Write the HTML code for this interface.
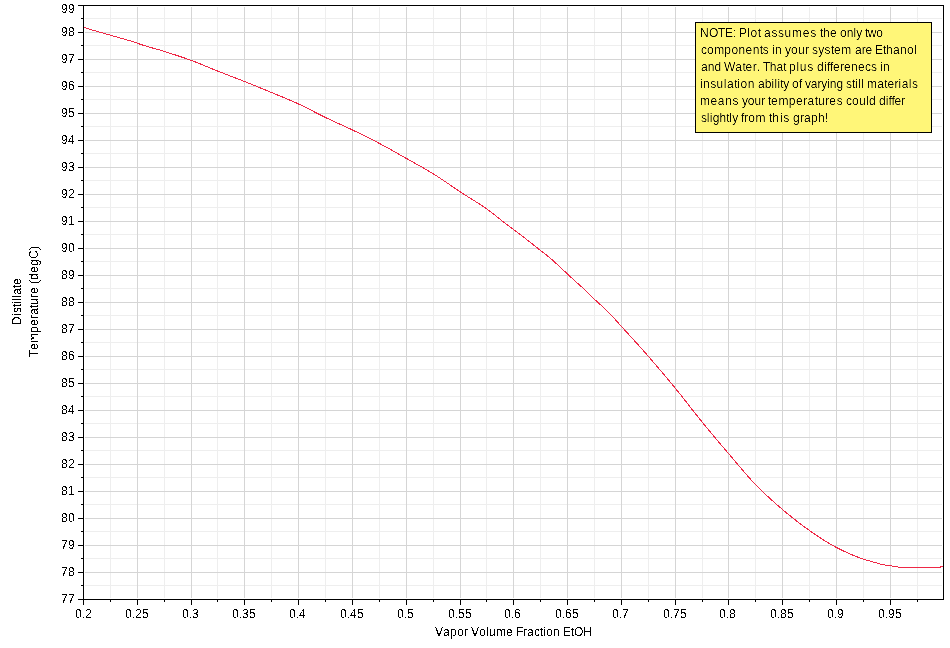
<!DOCTYPE html><html><head><meta charset="utf-8"><title>Distillate Temperature vs Vapor Volume Fraction EtOH</title>
<style>html,body{margin:0;padding:0;background:#fff;width:950px;height:648px;overflow:hidden}svg{display:block;will-change:transform}text{font-family:"Liberation Sans",Arial,sans-serif;font-size:12px;fill:#000}</style></head><body>
<svg width="950" height="648" viewBox="0 0 950 648">
<rect x="0" y="0" width="950" height="648" fill="#fff"/>
<path d="M85 18.5H942M85 45.5H942M85 72.5H942M85 99.5H942M85 126.5H942M85 153.5H942M85 180.5H942M85 207.5H942M85 234.5H942M85 261.5H942M85 288.5H942M85 315.5H942M85 342.5H942M85 369.5H942M85 396.5H942M85 423.5H942M85 450.5H942M85 477.5H942M85 504.5H942M85 531.5H942M85 558.5H942M85 585.5H942M110.5 7V598M164.5 7V598M217.5 7V598M271.5 7V598M325.5 7V598M379.5 7V598M433.5 7V598M486.5 7V598M540.5 7V598M594.5 7V598M648.5 7V598M702.5 7V598M755.5 7V598M809.5 7V598M863.5 7V598M917.5 7V598" stroke="#EEEEEE" stroke-width="1" fill="none" shape-rendering="crispEdges"/>
<path d="M85 32.5H942M85 59.5H942M85 86.5H942M85 113.5H942M85 140.5H942M85 167.5H942M85 194.5H942M85 221.5H942M85 248.5H942M85 275.5H942M85 302.5H942M85 329.5H942M85 356.5H942M85 383.5H942M85 410.5H942M85 437.5H942M85 464.5H942M85 491.5H942M85 518.5H942M85 545.5H942M85 572.5H942M137.5 7V598M191.5 7V598M244.5 7V598M298.5 7V598M352.5 7V598M406.5 7V598M460.5 7V598M513.5 7V598M567.5 7V598M621.5 7V598M675.5 7V598M728.5 7V598M782.5 7V598M836.5 7V598M890.5 7V598" stroke="#D5D5D5" stroke-width="1" fill="none" shape-rendering="crispEdges"/>
<path d="M84.5 27.50 L85.5 27.93 L86.5 28.32 L87.5 28.66 L88.5 28.95 L89.5 29.22 L90.5 29.50 L91.5 29.79 L92.5 30.07 L93.5 30.36 L94.5 30.64 L95.5 30.93 L96.5 31.21 L97.5 31.50 L98.5 31.79 L99.5 32.07 L100.5 32.36 L101.5 32.64 L102.5 32.93 L103.5 33.21 L104.5 33.50 L105.5 33.79 L106.5 34.07 L107.5 34.36 L108.5 34.64 L109.5 34.93 L110.5 35.21 L111.5 35.50 L112.5 35.79 L113.5 36.07 L114.5 36.36 L115.5 36.64 L116.5 36.93 L117.5 37.21 L118.5 37.50 L119.5 37.79 L120.5 38.07 L121.5 38.36 L122.5 38.64 L123.5 38.93 L124.5 39.21 L125.5 39.50 L126.5 39.79 L127.5 40.07 L128.5 40.36 L129.5 40.64 L130.5 40.92 L131.5 41.20 L132.5 41.50 L133.5 41.82 L134.5 42.15 L135.5 42.50 L136.5 42.90 L137.5 43.31 L138.5 43.68 L139.5 44.03 L140.5 44.37 L141.5 44.70 L142.5 45.02 L143.5 45.34 L144.5 45.65 L145.5 45.96 L146.5 46.26 L147.5 46.55 L148.5 46.85 L149.5 47.14 L150.5 47.42 L151.5 47.71 L152.5 47.99 L153.5 48.27 L154.5 48.55 L155.5 48.84 L156.5 49.12 L157.5 49.41 L158.5 49.69 L159.5 49.98 L160.5 50.28 L161.5 50.58 L162.5 50.88 L163.5 51.19 L164.5 51.50 L165.5 51.82 L166.5 52.13 L167.5 52.45 L168.5 52.77 L169.5 53.09 L170.5 53.41 L171.5 53.73 L172.5 54.05 L173.5 54.37 L174.5 54.69 L175.5 55.02 L176.5 55.34 L177.5 55.67 L178.5 56.00 L179.5 56.33 L180.5 56.67 L181.5 57.00 L182.5 57.34 L183.5 57.68 L184.5 58.02 L185.5 58.37 L186.5 58.71 L187.5 59.07 L188.5 59.42 L189.5 59.78 L190.5 60.14 L191.5 60.50 L192.5 60.87 L193.5 61.24 L194.5 61.62 L195.5 62.01 L196.5 62.40 L197.5 62.79 L198.5 63.19 L199.5 63.60 L200.5 64.00 L201.5 64.41 L202.5 64.82 L203.5 65.24 L204.5 65.65 L205.5 66.07 L206.5 66.48 L207.5 66.90 L208.5 67.32 L209.5 67.73 L210.5 68.15 L211.5 68.56 L212.5 68.98 L213.5 69.39 L214.5 69.79 L215.5 70.20 L216.5 70.60 L217.5 71.00 L218.5 71.40 L219.5 71.79 L220.5 72.18 L221.5 72.57 L222.5 72.96 L223.5 73.35 L224.5 73.74 L225.5 74.13 L226.5 74.51 L227.5 74.90 L228.5 75.28 L229.5 75.67 L230.5 76.05 L231.5 76.44 L232.5 76.82 L233.5 77.21 L234.5 77.59 L235.5 77.98 L236.5 78.37 L237.5 78.75 L238.5 79.14 L239.5 79.53 L240.5 79.92 L241.5 80.31 L242.5 80.71 L243.5 81.10 L244.5 81.50 L245.5 81.90 L246.5 82.30 L247.5 82.70 L248.5 83.10 L249.5 83.50 L250.5 83.90 L251.5 84.31 L252.5 84.71 L253.5 85.11 L254.5 85.52 L255.5 85.92 L256.5 86.33 L257.5 86.74 L258.5 87.15 L259.5 87.55 L260.5 87.96 L261.5 88.37 L262.5 88.78 L263.5 89.19 L264.5 89.61 L265.5 90.02 L266.5 90.43 L267.5 90.84 L268.5 91.26 L269.5 91.67 L270.5 92.09 L271.5 92.50 L272.5 92.91 L273.5 93.33 L274.5 93.74 L275.5 94.15 L276.5 94.56 L277.5 94.97 L278.5 95.38 L279.5 95.79 L280.5 96.21 L281.5 96.62 L282.5 97.03 L283.5 97.45 L284.5 97.86 L285.5 98.28 L286.5 98.70 L287.5 99.12 L288.5 99.54 L289.5 99.97 L290.5 100.40 L291.5 100.83 L292.5 101.26 L293.5 101.70 L294.5 102.15 L295.5 102.59 L296.5 103.04 L297.5 103.50 L298.5 103.96 L299.5 104.43 L300.5 104.90 L301.5 105.39 L302.5 105.87 L303.5 106.36 L304.5 106.86 L305.5 107.36 L306.5 107.86 L307.5 108.37 L308.5 108.88 L309.5 109.39 L310.5 109.91 L311.5 110.42 L312.5 110.94 L313.5 111.45 L314.5 111.97 L315.5 112.48 L316.5 113.00 L317.5 113.51 L318.5 114.02 L319.5 114.53 L320.5 115.03 L321.5 115.54 L322.5 116.03 L323.5 116.53 L324.5 117.02 L325.5 117.50 L326.5 117.98 L327.5 118.45 L328.5 118.93 L329.5 119.39 L330.5 119.86 L331.5 120.32 L332.5 120.78 L333.5 121.24 L334.5 121.70 L335.5 122.16 L336.5 122.61 L337.5 123.07 L338.5 123.52 L339.5 123.98 L340.5 124.43 L341.5 124.89 L342.5 125.34 L343.5 125.80 L344.5 126.26 L345.5 126.71 L346.5 127.18 L347.5 127.64 L348.5 128.11 L349.5 128.57 L350.5 129.05 L351.5 129.52 L352.5 130.00 L353.5 130.48 L354.5 130.96 L355.5 131.45 L356.5 131.93 L357.5 132.42 L358.5 132.90 L359.5 133.39 L360.5 133.88 L361.5 134.37 L362.5 134.86 L363.5 135.36 L364.5 135.85 L365.5 136.35 L366.5 136.85 L367.5 137.35 L368.5 137.85 L369.5 138.35 L370.5 138.86 L371.5 139.36 L372.5 139.87 L373.5 140.38 L374.5 140.90 L375.5 141.41 L376.5 141.93 L377.5 142.45 L378.5 142.97 L379.5 143.50 L380.5 144.03 L381.5 144.56 L382.5 145.09 L383.5 145.63 L384.5 146.17 L385.5 146.72 L386.5 147.26 L387.5 147.81 L388.5 148.36 L389.5 148.92 L390.5 149.47 L391.5 150.03 L392.5 150.59 L393.5 151.15 L394.5 151.71 L395.5 152.28 L396.5 152.84 L397.5 153.41 L398.5 153.97 L399.5 154.54 L400.5 155.10 L401.5 155.67 L402.5 156.24 L403.5 156.80 L404.5 157.37 L405.5 157.93 L406.5 158.50 L407.5 159.06 L408.5 159.63 L409.5 160.19 L410.5 160.75 L411.5 161.31 L412.5 161.87 L413.5 162.42 L414.5 162.98 L415.5 163.54 L416.5 164.10 L417.5 164.66 L418.5 165.23 L419.5 165.79 L420.5 166.36 L421.5 166.92 L422.5 167.49 L423.5 168.07 L424.5 168.64 L425.5 169.22 L426.5 169.80 L427.5 170.39 L428.5 170.98 L429.5 171.57 L430.5 172.17 L431.5 172.78 L432.5 173.39 L433.5 174.00 L434.5 174.62 L435.5 175.25 L436.5 175.88 L437.5 176.53 L438.5 177.18 L439.5 177.83 L440.5 178.49 L441.5 179.15 L442.5 179.82 L443.5 180.49 L444.5 181.17 L445.5 181.84 L446.5 182.52 L447.5 183.20 L448.5 183.89 L449.5 184.57 L450.5 185.25 L451.5 185.94 L452.5 186.62 L453.5 187.30 L454.5 187.98 L455.5 188.66 L456.5 189.34 L457.5 190.01 L458.5 190.68 L459.5 191.34 L460.5 192.00 L461.5 192.65 L462.5 193.30 L463.5 193.95 L464.5 194.59 L465.5 195.22 L466.5 195.86 L467.5 196.49 L468.5 197.12 L469.5 197.74 L470.5 198.37 L471.5 199.00 L472.5 199.62 L473.5 200.25 L474.5 200.88 L475.5 201.52 L476.5 202.15 L477.5 202.79 L478.5 203.43 L479.5 204.08 L480.5 204.73 L481.5 205.39 L482.5 206.06 L483.5 206.73 L484.5 207.41 L485.5 208.10 L486.5 208.79 L487.5 209.50 L488.5 210.22 L489.5 210.95 L490.5 211.70 L491.5 212.46 L492.5 213.23 L493.5 214.01 L494.5 214.80 L495.5 215.59 L496.5 216.39 L497.5 217.19 L498.5 217.99 L499.5 218.79 L500.5 219.59 L501.5 220.38 L502.5 221.17 L503.5 221.96 L504.5 222.73 L505.5 223.50 L506.5 224.26 L507.5 225.01 L508.5 225.76 L509.5 226.51 L510.5 227.25 L511.5 228.00 L512.5 228.75 L513.5 229.50 L514.5 230.26 L515.5 231.01 L516.5 231.77 L517.5 232.53 L518.5 233.28 L519.5 234.04 L520.5 234.80 L521.5 235.56 L522.5 236.32 L523.5 237.09 L524.5 237.85 L525.5 238.62 L526.5 239.39 L527.5 240.16 L528.5 240.94 L529.5 241.72 L530.5 242.50 L531.5 243.29 L532.5 244.08 L533.5 244.88 L534.5 245.69 L535.5 246.49 L536.5 247.30 L537.5 248.11 L538.5 248.91 L539.5 249.71 L540.5 250.50 L541.5 251.28 L542.5 252.05 L543.5 252.81 L544.5 253.56 L545.5 254.32 L546.5 255.09 L547.5 255.87 L548.5 256.68 L549.5 257.50 L550.5 258.35 L551.5 259.22 L552.5 260.12 L553.5 261.03 L554.5 261.95 L555.5 262.88 L556.5 263.82 L557.5 264.76 L558.5 265.71 L559.5 266.64 L560.5 267.58 L561.5 268.50 L562.5 269.42 L563.5 270.33 L564.5 271.24 L565.5 272.16 L566.5 273.08 L567.5 274.00 L568.5 274.93 L569.5 275.87 L570.5 276.82 L571.5 277.76 L572.5 278.71 L573.5 279.65 L574.5 280.58 L575.5 281.50 L576.5 282.40 L577.5 283.29 L578.5 284.17 L579.5 285.04 L580.5 285.92 L581.5 286.79 L582.5 287.68 L583.5 288.58 L584.5 289.50 L585.5 290.44 L586.5 291.41 L587.5 292.39 L588.5 293.38 L589.5 294.38 L590.5 295.39 L591.5 296.38 L592.5 297.37 L593.5 298.35 L594.5 299.30 L595.5 300.23 L596.5 301.15 L597.5 302.05 L598.5 302.94 L599.5 303.83 L600.5 304.73 L601.5 305.64 L602.5 306.56 L603.5 307.50 L604.5 308.46 L605.5 309.43 L606.5 310.41 L607.5 311.41 L608.5 312.41 L609.5 313.43 L610.5 314.46 L611.5 315.50 L612.5 316.56 L613.5 317.63 L614.5 318.72 L615.5 319.82 L616.5 320.93 L617.5 322.04 L618.5 323.16 L619.5 324.28 L620.5 325.39 L621.5 326.50 L622.5 327.60 L623.5 328.71 L624.5 329.81 L625.5 330.91 L626.5 332.01 L627.5 333.11 L628.5 334.20 L629.5 335.30 L630.5 336.40 L631.5 337.50 L632.5 338.60 L633.5 339.70 L634.5 340.81 L635.5 341.91 L636.5 343.01 L637.5 344.12 L638.5 345.23 L639.5 346.34 L640.5 347.46 L641.5 348.58 L642.5 349.70 L643.5 350.82 L644.5 351.95 L645.5 353.08 L646.5 354.22 L647.5 355.36 L648.5 356.50 L649.5 357.65 L650.5 358.80 L651.5 359.95 L652.5 361.11 L653.5 362.27 L654.5 363.44 L655.5 364.60 L656.5 365.77 L657.5 366.94 L658.5 368.12 L659.5 369.29 L660.5 370.47 L661.5 371.66 L662.5 372.84 L663.5 374.03 L664.5 375.22 L665.5 376.42 L666.5 377.61 L667.5 378.81 L668.5 380.01 L669.5 381.22 L670.5 382.43 L671.5 383.64 L672.5 384.85 L673.5 386.06 L674.5 387.28 L675.5 388.50 L676.5 389.73 L677.5 390.96 L678.5 392.20 L679.5 393.44 L680.5 394.70 L681.5 395.95 L682.5 397.21 L683.5 398.48 L684.5 399.75 L685.5 401.02 L686.5 402.30 L687.5 403.57 L688.5 404.85 L689.5 406.13 L690.5 407.40 L691.5 408.68 L692.5 409.96 L693.5 411.23 L694.5 412.50 L695.5 413.77 L696.5 415.03 L697.5 416.29 L698.5 417.54 L699.5 418.79 L700.5 420.04 L701.5 421.27 L702.5 422.50 L703.5 423.72 L704.5 424.94 L705.5 426.16 L706.5 427.37 L707.5 428.58 L708.5 429.79 L709.5 431.00 L710.5 432.20 L711.5 433.40 L712.5 434.60 L713.5 435.79 L714.5 436.99 L715.5 438.18 L716.5 439.37 L717.5 440.55 L718.5 441.74 L719.5 442.92 L720.5 444.10 L721.5 445.28 L722.5 446.46 L723.5 447.64 L724.5 448.81 L725.5 449.99 L726.5 451.16 L727.5 452.33 L728.5 453.50 L729.5 454.67 L730.5 455.85 L731.5 457.03 L732.5 458.22 L733.5 459.41 L734.5 460.60 L735.5 461.79 L736.5 462.98 L737.5 464.17 L738.5 465.35 L739.5 466.54 L740.5 467.72 L741.5 468.90 L742.5 470.07 L743.5 471.24 L744.5 472.40 L745.5 473.56 L746.5 474.70 L747.5 475.84 L748.5 476.96 L749.5 478.08 L750.5 479.18 L751.5 480.28 L752.5 481.35 L753.5 482.42 L754.5 483.47 L755.5 484.50 L756.5 485.52 L757.5 486.53 L758.5 487.54 L759.5 488.53 L760.5 489.52 L761.5 490.50 L762.5 491.47 L763.5 492.43 L764.5 493.39 L765.5 494.34 L766.5 495.28 L767.5 496.22 L768.5 497.15 L769.5 498.07 L770.5 498.98 L771.5 499.89 L772.5 500.79 L773.5 501.69 L774.5 502.58 L775.5 503.46 L776.5 504.34 L777.5 505.21 L778.5 506.08 L779.5 506.94 L780.5 507.80 L781.5 508.65 L782.5 509.50 L783.5 510.34 L784.5 511.18 L785.5 512.02 L786.5 512.85 L787.5 513.68 L788.5 514.50 L789.5 515.31 L790.5 516.13 L791.5 516.93 L792.5 517.74 L793.5 518.53 L794.5 519.33 L795.5 520.11 L796.5 520.89 L797.5 521.67 L798.5 522.44 L799.5 523.20 L800.5 523.96 L801.5 524.71 L802.5 525.46 L803.5 526.20 L804.5 526.93 L805.5 527.66 L806.5 528.38 L807.5 529.09 L808.5 529.80 L809.5 530.50 L810.5 531.20 L811.5 531.89 L812.5 532.58 L813.5 533.27 L814.5 533.95 L815.5 534.64 L816.5 535.31 L817.5 535.99 L818.5 536.66 L819.5 537.32 L820.5 537.98 L821.5 538.64 L822.5 539.28 L823.5 539.92 L824.5 540.56 L825.5 541.19 L826.5 541.81 L827.5 542.42 L828.5 543.02 L829.5 543.61 L830.5 544.20 L831.5 544.78 L832.5 545.34 L833.5 545.90 L834.5 546.44 L835.5 546.98 L836.5 547.50 L837.5 548.01 L838.5 548.52 L839.5 549.03 L840.5 549.53 L841.5 550.02 L842.5 550.50 L843.5 550.99 L844.5 551.46 L845.5 551.93 L846.5 552.39 L847.5 552.85 L848.5 553.30 L849.5 553.74 L850.5 554.18 L851.5 554.61 L852.5 555.03 L853.5 555.45 L854.5 555.85 L855.5 556.26 L856.5 556.65 L857.5 557.04 L858.5 557.41 L859.5 557.78 L860.5 558.15 L861.5 558.50 L862.5 558.84 L863.5 559.16 L864.5 559.47 L865.5 559.77 L866.5 560.06 L867.5 560.35 L868.5 560.65 L869.5 560.94 L870.5 561.23 L871.5 561.52 L872.5 561.80 L873.5 562.08 L874.5 562.36 L875.5 562.64 L876.5 562.92 L877.5 563.21 L878.5 563.49 L879.5 563.76 L880.5 564.03 L881.5 564.27 L882.5 564.50 L883.5 564.71 L884.5 564.90 L885.5 565.09 L886.5 565.26 L887.5 565.42 L888.5 565.57 L889.5 565.70 L890.5 565.82 L891.5 565.93 L892.5 566.04 L893.5 566.15 L894.5 566.28 L895.5 566.42 L896.5 566.60 L897.5 566.87 L898.5 567.16 L899.5 567.40 L900.5 567.50 L901.5 567.50 L902.5 567.50 L903.5 567.50 L904.5 567.50 L905.5 567.50 L906.5 567.50 L907.5 567.50 L908.5 567.50 L909.5 567.50 L910.5 567.50 L911.5 567.50 L912.5 567.50 L913.5 567.50 L914.5 567.50 L915.5 567.50 L916.5 567.50 L917.5 567.50 L918.5 567.50 L919.5 567.50 L920.5 567.50 L921.5 567.50 L922.5 567.50 L923.5 567.50 L924.5 567.50 L925.5 567.50 L926.5 567.50 L927.5 567.50 L928.5 567.50 L929.5 567.50 L930.5 567.50 L931.5 567.50 L932.5 567.50 L933.5 567.50 L934.5 567.50 L935.5 567.50 L936.5 567.50 L937.5 567.50 L938.5 567.50 L939.5 567.50 L940.5 567.00 L941.5 566.50 L942.5 566.50" stroke="#EE2846" stroke-width="1" fill="none" stroke-linecap="square" shape-rendering="crispEdges"/>
<path d="M83.5 5V600M78 599.5H944M78 5.5H944M943.5 5V600M78 5.5H83M81 18.5H83M78 32.5H83M81 45.5H83M78 59.5H83M81 72.5H83M78 86.5H83M81 99.5H83M78 113.5H83M81 126.5H83M78 140.5H83M81 153.5H83M78 167.5H83M81 180.5H83M78 194.5H83M81 207.5H83M78 221.5H83M81 234.5H83M78 248.5H83M81 261.5H83M78 275.5H83M81 288.5H83M78 302.5H83M81 315.5H83M78 329.5H83M81 342.5H83M78 356.5H83M81 369.5H83M78 383.5H83M81 396.5H83M78 410.5H83M81 423.5H83M78 437.5H83M81 450.5H83M78 464.5H83M81 477.5H83M78 491.5H83M81 504.5H83M78 518.5H83M81 531.5H83M78 545.5H83M81 558.5H83M78 572.5H83M81 585.5H83M78 599.5H83M83.5 600V605M110.5 600V602M137.5 600V605M164.5 600V602M191.5 600V605M217.5 600V602M244.5 600V605M271.5 600V602M298.5 600V605M325.5 600V602M352.5 600V605M379.5 600V602M406.5 600V605M433.5 600V602M460.5 600V605M486.5 600V602M513.5 600V605M540.5 600V602M567.5 600V605M594.5 600V602M621.5 600V605M648.5 600V602M675.5 600V605M702.5 600V602M728.5 600V605M755.5 600V602M782.5 600V605M809.5 600V602M836.5 600V605M863.5 600V602M890.5 600V605M917.5 600V602" stroke="#000" stroke-width="1" fill="none" shape-rendering="crispEdges"/>
<defs><filter id="crisp" x="0" y="0" width="100%" height="100%"><feComponentTransfer><feFuncA type="discrete" tableValues="0 1"/></feComponentTransfer></filter></defs>
<g filter="url(#crisp)">
<text x="61 68" y="13">99</text>
<text x="61 68" y="36">98</text>
<text x="61 68" y="63">97</text>
<text x="61 68" y="90">96</text>
<text x="61 68" y="117">95</text>
<text x="61 68" y="144">94</text>
<text x="61 68" y="171">93</text>
<text x="61 68" y="198">92</text>
<text x="61 68" y="225">91</text>
<text x="61 68" y="252">90</text>
<text x="61 68" y="279">89</text>
<text x="61 68" y="306">88</text>
<text x="61 68" y="333">87</text>
<text x="61 68" y="360">86</text>
<text x="61 68" y="387">85</text>
<text x="61 68" y="414">84</text>
<text x="61 68" y="441">83</text>
<text x="61 68" y="468">82</text>
<text x="61 68" y="495">81</text>
<text x="61 68" y="522">80</text>
<text x="61 68" y="549">79</text>
<text x="61 68" y="576">78</text>
<text x="61 68" y="603">77</text>
<text x="75 82 85" y="618">0.2</text>
<text x="125 132 135 142" y="618">0.25</text>
<text x="182 189 192" y="618">0.3</text>
<text x="232 239 242 249" y="618">0.35</text>
<text x="289 296 299" y="618">0.4</text>
<text x="340 347 350 357" y="618">0.45</text>
<text x="397 404 407" y="618">0.5</text>
<text x="448 455 458 465" y="618">0.55</text>
<text x="504 511 514" y="618">0.6</text>
<text x="555 562 565 572" y="618">0.65</text>
<text x="612 619 622" y="618">0.7</text>
<text x="663 670 673 680" y="618">0.75</text>
<text x="719 726 729" y="618">0.8</text>
<text x="770 777 780 787" y="618">0.85</text>
<text x="827 834 837" y="618">0.9</text>
<text x="878 885 888 895" y="618">0.95</text>
<text x="435 443 450 457 464 468 471 479 486 489 496 506 513 516 523 527 534 540 543 546 553 560 563 571 574 583" y="636">Vapor Volume Fraction EtOH</text>
<g transform="translate(21 302) rotate(-90)"><text x="-23 -14 -11 -5 -2 1 4 7 14 17" y="0">Distillate</text></g>
<g transform="translate(38 302) rotate(-90)"><text x="-55 -48 -41 -31 -24 -17 -13 -6 -3 4 8 15 18 22 29 36 43 52" y="0">Temperature (degC)</text></g>
</g>
<rect x="695.5" y="22.5" width="236" height="110" fill="#FFF678" stroke="#000" stroke-width="1" shape-rendering="crispEdges"/>
<defs><filter id="sharp" x="0" y="0" width="100%" height="100%"><feComponentTransfer><feFuncA type="table" tableValues="0 0 0.35 0.9 1"/></feComponentTransfer></filter></defs>
<g filter="url(#sharp)">
<text x="700.00 709.00 718.00 725.00 733.00 736.00 739.00 747.30 750.43 757.74 760.87 764.00 771.54 778.00 784.46 792.00 802.77 810.31 816.77 820.00 823.00 830.00 837.00 840.00 846.73 853.46 856.35 862.12 865.00 867.82 876.29" y="37">NOTE: Plot assumes the only two</text>
<text x="701.00 707.08 714.18 724.32 731.42 738.52 745.62 752.72 759.82 762.86 768.94 771.99 775.00 782.00 785.00 791.00 798.00 805.00 809.00 812.00 818.29 824.59 830.88 834.02 841.37 851.85 855.00 861.68 865.50 872.18 875.05 883.00 886.00 893.00 900.00 907.00 914.00" y="54">components in your system are Ethanol</text>
<text x="701.00 707.71 714.42 721.12 724.00 735.29 742.47 745.55 752.74 756.84 759.92 763.00 769.75 776.50 783.25 786.14 789.04 796.48 799.72 807.28 813.76 817.00 824.00 827.00 830.00 833.00 840.00 844.00 851.00 858.00 865.00 871.00 877.00 880.00 883.00" y="71">and Water. That plus differenecs in</text>
<text x="700.00 703.07 710.33 716.55 723.80 726.91 734.16 737.27 740.38 747.64 754.89 758.00 764.80 771.60 774.51 777.43 780.34 783.26 789.09 792.00 799.00 802.00 805.00 810.72 817.40 821.21 826.93 829.79 836.47 843.14 846.00 852.00 855.00 858.00 861.00 864.00 867.00 877.19 884.33 887.40 894.54 898.62 901.69 908.83 911.90" y="88">insulation ability of varying still materials</text>
<text x="700.00 710.46 717.82 725.18 732.54 738.85 742.00 747.78 754.52 761.26 765.11 768.00 771.12 778.40 788.80 796.08 803.36 807.52 814.80 817.92 825.20 829.36 836.64 842.88 846.00 852.00 859.00 866.00 869.00 876.00 879.00 885.73 888.62 891.50 894.38 901.12" y="105">means your temperatures could differ</text>
<text x="701.00 706.85 709.78 712.71 719.54 726.37 729.29 732.22 738.07 741.00 744.11 748.26 755.52 765.89 769.00 772.27 779.91 783.18 789.73 793.00 800.00 804.00 811.00 818.00 825.00" y="122">slightly from this graph!</text>
</g>
</svg></body></html>
